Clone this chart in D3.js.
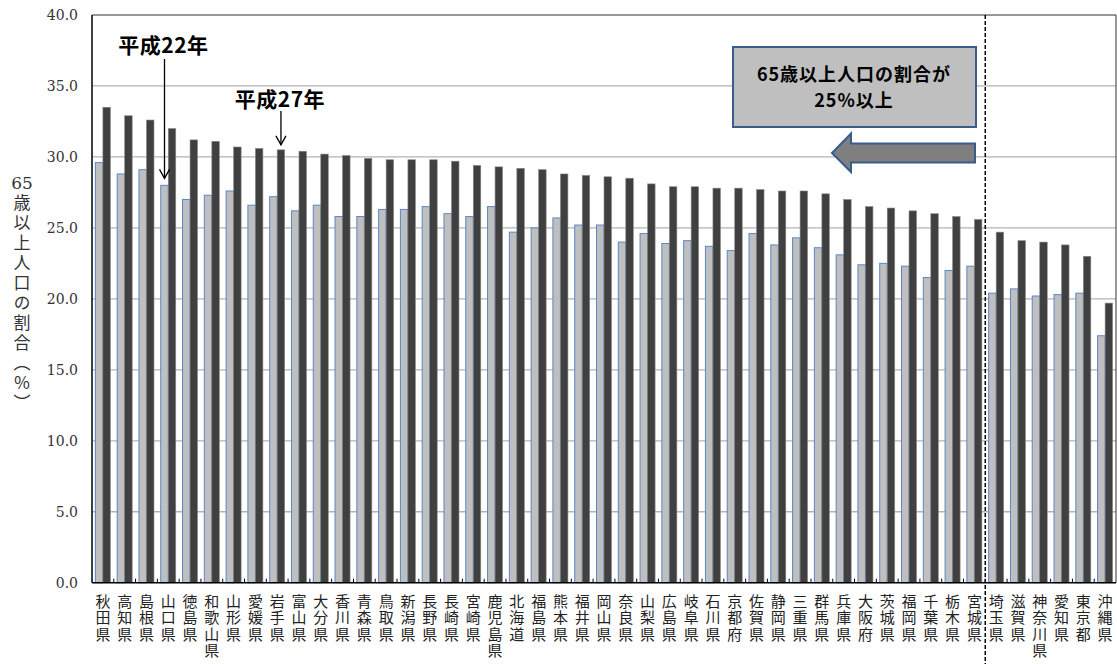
<!DOCTYPE html>
<html>
<head>
<meta charset="utf-8">
<script src="https://cdn.jsdelivr.net/npm/d3@7"></script>
<style>
  body { margin: 0; background: #fff; }
  svg { display: block; }
</style>
</head>
<body>
<div id="chart"></div>
<script>
// 65歳以上人口の割合 都道府県別（平成22年・平成27年）

const prefs = ["秋田県","高知県","島根県","山口県","徳島県","和歌山県","山形県","愛媛県","岩手県","富山県",
  "大分県","香川県","青森県","鳥取県","新潟県","長野県","長崎県","宮崎県","鹿児島県","北海道",
  "福島県","熊本県","福井県","岡山県","奈良県","山梨県","広島県","岐阜県","石川県","京都府",
  "佐賀県","静岡県","三重県","群馬県","兵庫県","大阪府","茨城県","福岡県","千葉県","栃木県",
  "宮城県","埼玉県","滋賀県","神奈川県","愛知県","東京都","沖縄県"];

const h22 = [29.6, 28.8, 29.1, 28.0, 27.0, 27.3, 27.6, 26.6, 27.2, 26.2,
  26.6, 25.8, 25.8, 26.3, 26.3, 26.5, 26.0, 25.8, 26.5, 24.7,
  25.0, 25.7, 25.2, 25.2, 24.0, 24.6, 23.9, 24.1, 23.7, 23.4,
  24.6, 23.8, 24.3, 23.6, 23.1, 22.4, 22.5, 22.3, 21.5, 22.0,
  22.3, 20.4, 20.7, 20.2, 20.3, 20.4, 17.4];

const h27 = [33.5, 32.9, 32.6, 32.0, 31.2, 31.1, 30.7, 30.6, 30.5, 30.4,
  30.2, 30.1, 29.9, 29.8, 29.8, 29.8, 29.7, 29.4, 29.3, 29.2,
  29.1, 28.8, 28.7, 28.6, 28.5, 28.1, 27.9, 27.9, 27.8, 27.8,
  27.7, 27.6, 27.6, 27.4, 27.0, 26.5, 26.4, 26.2, 26.0, 25.8,
  25.6, 24.7, 24.1, 24.0, 23.8, 23.0, 19.7];

const series = ["平成22年", "平成27年"];
const yTicks = [0, 5, 10, 15, 20, 25, 30, 35, 40];

const w = 1117, h = 664;
const pL = 92, pR = 1116, pT = 15, pB = 582.7;
const jp = "'Noto Sans CJK JP', sans-serif";

const svg = d3.select("#chart").append("svg")
  .attr("width", w)
  .attr("height", h);

const x = d3.scaleBand().domain(prefs).range([pL, pR]).paddingInner(0).paddingOuter(0);
const xSub = d3.scaleBand().domain(series).range([0, x.bandwidth()]).paddingInner(0).paddingOuter(0.45);
const y = d3.scaleLinear().domain([0, 40]).range([pB, pT]);

// gridlines
svg.append("g")
  .selectAll("line")
  .data(yTicks.filter(d => d > 0 && d < 40))
  .enter()
  .append("line")
  .attr("x1", pL).attr("x2", pR)
  .attr("y1", d => y(d)).attr("y2", d => y(d))
  .attr("stroke", "#b3b3b3")
  .attr("stroke-width", 1.3);

// plot border (top & right)
svg.append("path")
  .attr("d", "M" + pL + "," + pT + "H" + pR + "V" + pB)
  .attr("fill", "none")
  .attr("stroke", "#333")
  .attr("stroke-width", 1);

// bars
const groups = svg.append("g")
  .selectAll("g")
  .data(prefs.map((p, i) => ({ name: p, v22: h22[i], v27: h27[i] })))
  .enter()
  .append("g")
  .attr("transform", d => "translate(" + x(d.name) + ",0)");

groups.append("rect")
  .attr("x", xSub("平成22年"))
  .attr("y", d => y(d.v22))
  .attr("width", xSub.bandwidth())
  .attr("height", d => y(0) - y(d.v22))
  .attr("fill", "#bfbfbf")
  .attr("stroke", "#5b87c5")
  .attr("stroke-width", 1);

groups.append("rect")
  .attr("x", xSub("平成27年"))
  .attr("y", d => y(d.v27))
  .attr("width", xSub.bandwidth())
  .attr("height", d => y(0) - y(d.v27))
  .attr("fill", "#404040")
  .attr("stroke", "#8a8a8a")
  .attr("stroke-width", 0.6);

// axes
svg.append("line")
  .attr("x1", pL).attr("x2", pL)
  .attr("y1", pT).attr("y2", pB)
  .attr("stroke", "#000").attr("stroke-width", 1.5);
svg.append("line")
  .attr("x1", pL).attr("x2", pR)
  .attr("y1", pB).attr("y2", pB)
  .attr("stroke", "#000").attr("stroke-width", 1.5);

// x ticks (inside)
svg.append("g")
  .selectAll("line")
  .data(prefs.slice(1))
  .enter()
  .append("line")
  .attr("x1", d => x(d)).attr("x2", d => x(d))
  .attr("y1", pB - 4).attr("y2", pB)
  .attr("stroke", "#000").attr("stroke-width", 1);

// y tick labels
svg.append("g")
  .selectAll("text")
  .data(yTicks)
  .enter()
  .append("text")
  .attr("x", 78)
  .attr("y", d => y(d) + 5)
  .attr("text-anchor", "end")
  .style("font-family", "'DejaVu Serif', serif")
  .style("font-size", "14px")
  .attr("fill", "#333")
  .text(d => d3.format(".1f")(d));

// x labels, written vertically
svg.append("g")
  .selectAll("text")
  .data(prefs)
  .enter()
  .append("text")
  .attr("x", d => x(d) + x.bandwidth() / 2)
  .attr("y", 594)
  .style("writing-mode", "vertical-rl")
  .style("text-orientation", "upright")
  .style("letter-spacing", "1.3px")
  .style("font-family", jp)
  .style("font-size", "15px")
  .attr("fill", "#222")
  .text(d => d);

// y title
svg.append("text")
  .attr("x", 22)
  .attr("y", 189)
  .attr("text-anchor", "middle")
  .style("font-family", "'DejaVu Serif', serif")
  .style("font-size", "17px")
  .attr("fill", "#333")
  .text("65");
svg.append("text")
  .attr("x", 22)
  .attr("y", 194)
  .style("writing-mode", "vertical-rl")
  .style("letter-spacing", "3px")
  .style("font-family", jp)
  .style("font-size", "17px")
  .attr("fill", "#333")
  .text("歳以上人口の割合（％）");

// dashed divider between 宮城県 and 埼玉県
svg.append("line")
  .attr("x1", x("埼玉県")).attr("x2", x("埼玉県"))
  .attr("y1", pT).attr("y2", h)
  .attr("stroke", "#000")
  .attr("stroke-width", 1.5)
  .attr("stroke-dasharray", "4,2");

// series labels with arrows
function pointer(label, pref, ser, val, textY, lineTop, gap) {
  const cx = x(pref) + xSub(ser) + xSub.bandwidth() / 2;
  const yEnd = y(val) - gap;
  svg.append("text")
    .attr("x", cx - 1)
    .attr("y", textY)
    .attr("text-anchor", "middle")
    .style("font-family", jp)
    .style("font-size", "21px")
    .style("font-weight", "bold")
    .style("letter-spacing", "0.5px")
    .attr("fill", "#000")
    .text(label);
  svg.append("line")
    .attr("x1", cx).attr("x2", cx)
    .attr("y1", lineTop).attr("y2", yEnd)
    .attr("stroke", "#000").attr("stroke-width", 1.3);
  svg.append("path")
    .attr("d", "M" + (cx - 5) + "," + (yEnd - 9) + "L" + cx + "," + yEnd + "L" + (cx + 5) + "," + (yEnd - 9))
    .attr("fill", "none")
    .attr("stroke", "#000").attr("stroke-width", 1.3);
}
pointer("平成22年", "山口県", "平成22年", h22[3], 53, 59, 7);
pointer("平成27年", "岩手県", "平成27年", h27[8], 107, 111, 5);

// annotation box
svg.append("rect")
  .attr("x", 733).attr("y", 47)
  .attr("width", 243).attr("height", 80)
  .attr("fill", "#bfbfbf")
  .attr("stroke", "#385d8a")
  .attr("stroke-width", 2);
svg.append("text")
  .attr("x", 854).attr("y", 81)
  .attr("text-anchor", "middle")
  .style("font-family", jp)
  .style("font-size", "18px")
  .style("font-weight", "bold")
  .style("letter-spacing", "1px")
  .attr("fill", "#000")
  .text("65歳以上人口の割合が");
svg.append("text")
  .attr("x", 854).attr("y", 107)
  .attr("text-anchor", "middle")
  .style("font-family", jp)
  .style("font-size", "18px")
  .style("font-weight", "bold")
  .style("letter-spacing", "1px")
  .attr("fill", "#000")
  .text("25%以上");

// left arrow
svg.append("path")
  .attr("d", "M975,143.5 H851 V133.5 L832,153 L851,172 V162.5 H975 Z")
  .attr("fill", "#7f7f7f")
  .attr("stroke", "#385d8a")
  .attr("stroke-width", 2);
</script>
</body>
</html>
